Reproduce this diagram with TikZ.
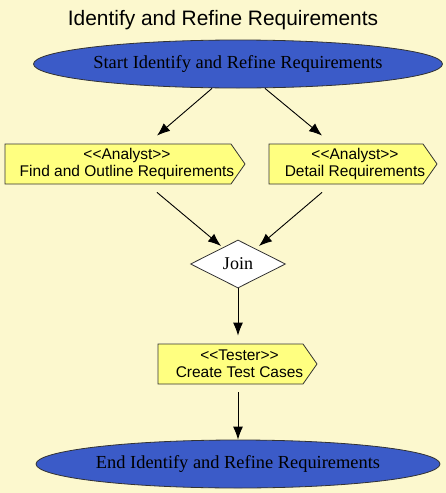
\documentclass[tikz,border=0pt]{standalone}
\usepackage{fontspec}
\setmainfont{Liberation Serif}
\setsansfont{Liberation Sans}
\usetikzlibrary{shapes.geometric,shapes.symbols,arrows.meta}

\definecolor{pagebg}{HTML}{FCF8CE}
\definecolor{boxyellow}{HTML}{FFFF80}
\definecolor{endblue}{HTML}{3B5BC8}

% two centred lines, moved right to sit in the middle of the whole box
\newcommand{\roletext}[2]{\kern9pt #1\kern-9pt\\\kern9pt #2\kern-9pt}

\tikzset{>={Latex[length=13pt,width=10pt]}}
\tikzset{
	endpoint/.style={ellipse, draw=black!80, line width=0.8pt, fill=endblue, minimum width=404pt, minimum height=48pt, inner sep=0pt, font=\fontsize{18.4}{20}\selectfont},
	actionbox/.style={signal, signal to=east, signal from=nowhere, signal pointer angle=110, draw=black!80, line width=0.8pt, fill=boxyellow, minimum height=40pt, inner sep=0pt, align=center, font=\sffamily\fontsize{15.5}{17}\selectfont},
	joinnode/.style={diamond, draw=black!80, line width=0.8pt, fill=white, minimum width=95pt, minimum height=48pt, inner sep=0pt, font=\fontsize{18}{20}\selectfont},
	flow/.style={->, line width=0.9pt}
}

\begin{document}
\begin{tikzpicture}[x=1pt, y=-1pt]

			\path[use as bounding box, fill=pagebg] (0,0) rectangle (446,493);

			\node[font=\sffamily\fontsize{20.9}{22}\selectfont] (title) at (223,20) {Identify and Refine Requirements};

			\node[endpoint] (start) at (238,64) {Start Identify and Refine Requirements};
			\node[actionbox, minimum width=240pt] (find) at (118,164) {\roletext{<{}<Analyst>{}>}{Find and Outline Requirements}};
			\node[actionbox, minimum width=168pt] (detail) at (346,164) {\roletext{<{}<Analyst>{}>}{Detail Requirements}};
			\node[joinnode] (join) at (238,264) {Join};
			\node[actionbox, minimum width=159pt] (tester) at (230.5,364) {\roletext{<{}<Tester>{}>}{Create Test Cases}};
			\node[endpoint] (end) at (238,464) {End Identify and Refine Requirements};

			\draw[flow] ([xshift=-26pt]start.south) -- ([xshift=39pt,yshift=8pt]find.north);
			\draw[flow] ([xshift=27pt]start.south) -- ([xshift=-24pt,yshift=8pt]detail.north);
			\draw[flow] ([xshift=39pt,yshift=-8pt]find.south) -- ([shift={(-17pt,18pt)}]join.center);
			\draw[flow] ([xshift=-24pt,yshift=-8pt]detail.south) -- ([shift={(21pt,18pt)}]join.center);
			\draw[flow] (join.south) -- ([xshift=7.5pt,yshift=8pt]tester.north);
			\draw[flow] ([xshift=7.5pt,yshift=-8pt]tester.south) -- (end.north);

		\end{tikzpicture}
\end{document}
